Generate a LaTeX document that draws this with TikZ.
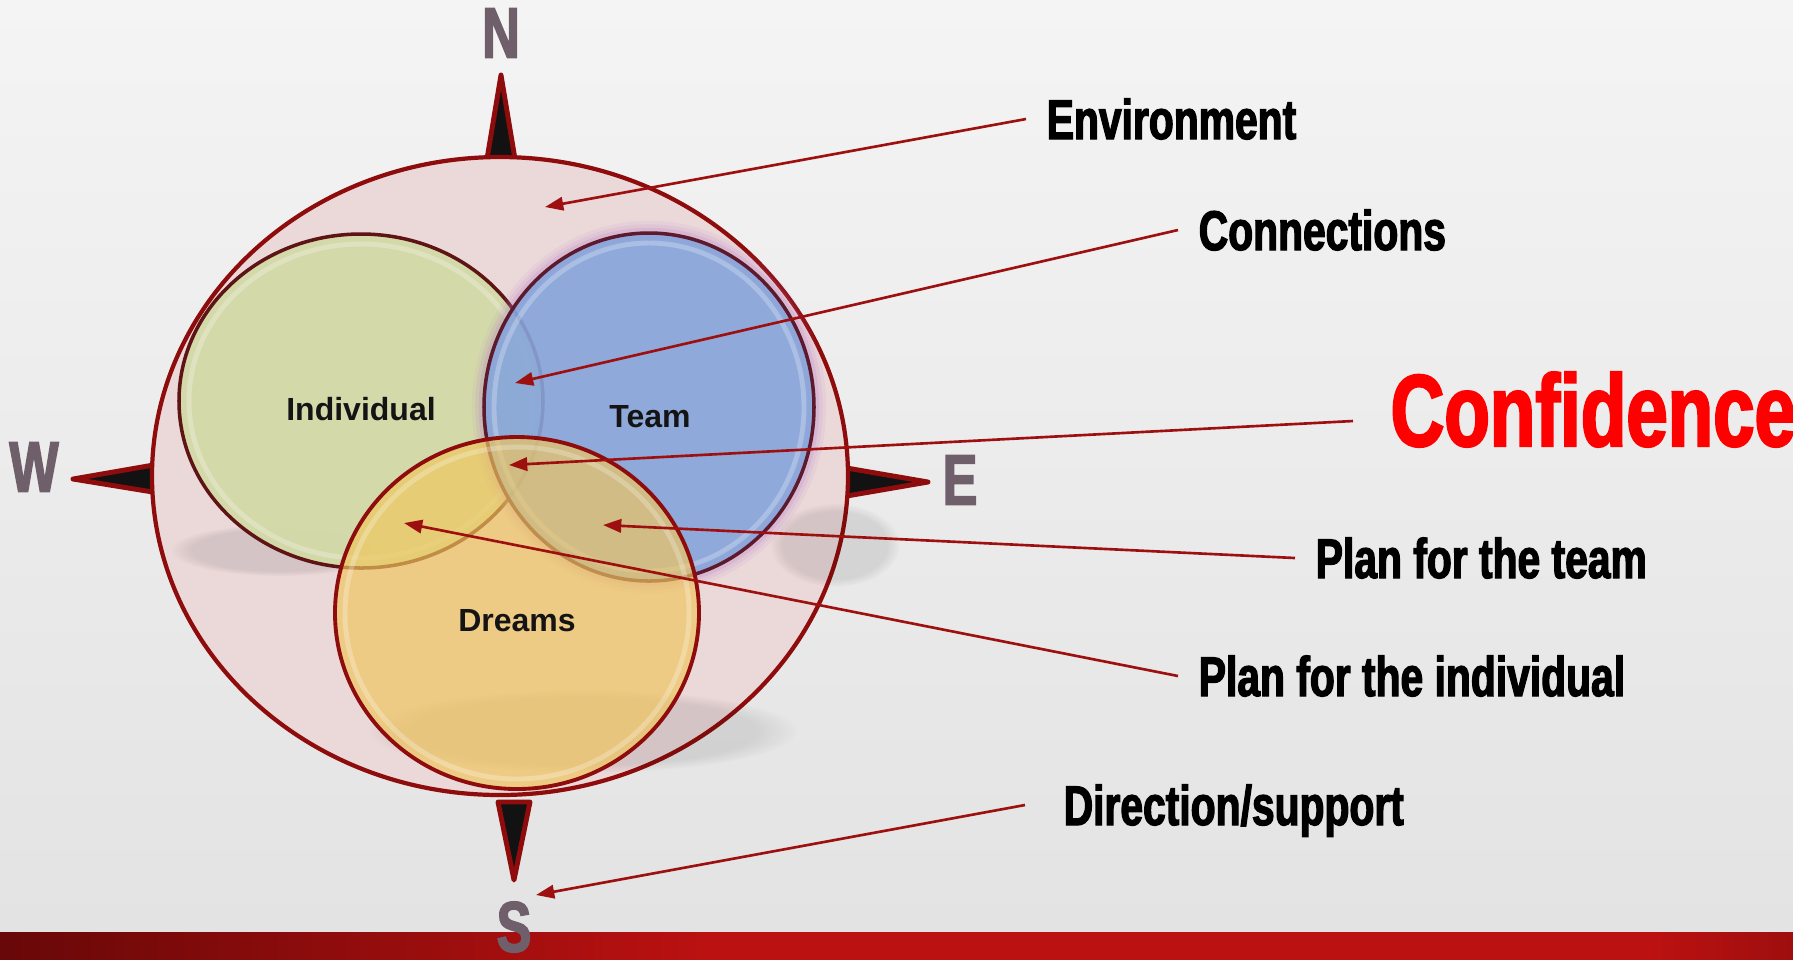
\documentclass[tikz,border=0pt]{standalone}
\usepackage{fontspec}
\setmainfont{Liberation Sans}
\newfontfamily\impactfont{Liberation Sans}[FakeStretch=0.73,BoldFeatures={FakeBold=2.2}]
\usetikzlibrary{arrows.meta,fadings}
\definecolor{PaperTop}{HTML}{F4F4F4}
\definecolor{PaperBot}{HTML}{E3E3E3}
\definecolor{BarDark}{HTML}{680808}
\definecolor{BarRed}{HTML}{BC1111}
\definecolor{BarEnd}{HTML}{9E0E0E}
\definecolor{Rim}{HTML}{8E0C0C}
\definecolor{Pointer}{HTML}{9E1010}
\definecolor{EnvFill}{HTML}{EBD8D9}
\definecolor{IndFill}{HTML}{D3DAA8}
\definecolor{IndRim}{HTML}{5E1414}
\definecolor{TeamFill}{HTML}{86A5DB}
\definecolor{TeamRim}{HTML}{5C1A2C}
\definecolor{DreamFill}{HTML}{F0C65C}
\definecolor{Glow}{HTML}{B57AC8}
\definecolor{Heading}{HTML}{6E5F6A}
\definecolor{Alarm}{HTML}{FF0000}
% the path is fitted to the 25bp--75bp part of the shading
\pgfdeclarehorizontalshading{barshade}{100bp}{color(0bp)=(BarDark); color(25bp)=(BarDark);
  color(45bp)=(BarRed); color(71bp)=(BarRed); color(75bp)=(BarEnd); color(100bp)=(BarEnd)}
% one black compass needle with a red rim: apex, then the two base corners
\newcommand{\CompassTip}[3]{%
  \filldraw[fill=black!93,draw=Rim,line width=1.4pt,line join=round] (#1) -- (#2) -- (#3) -- cycle;%
}

\begin{document}
\begin{tikzpicture}[x=0.01cm,y=-0.01cm,
  caption/.style={anchor=west,inner xsep=5.7pt,inner ysep=0pt,text height=11.4pt,text depth=0pt,
    font=\impactfont\bfseries\fontsize{15.9}{18}\selectfont},
  heading/.style={text=Heading,inner sep=0pt,font=\impactfont\bfseries\fontsize{20.3}{22}\selectfont},
  settext/.style={font=\bfseries\fontsize{9.1}{11}\selectfont,text=black!92},
  pointer/.style={draw=Pointer,line width=0.75pt,-{Triangle[length=5.2pt,width=3.8pt]}},
  haze/.style={black,opacity=0.09,path fading=circle with fuzzy edge 20 percent},
  bevel/.style={white,opacity=0.25,line width=1.4pt}]
\useasboundingbox (0,0) rectangle (1793,959);
\shade[top color=PaperTop,bottom color=PaperBot] (0,0) rectangle (1793,932);
\shade[shading=barshade] (0,932) rectangle (1793,959);

% compass needles
\CompassTip{501,75}{486,165}{516,165}
\CompassTip{73,479}{165,463}{165,494}
\CompassTip{928,482}{835,466}{835,498}
\CompassTip{514,880}{498,802}{530,802}

% environment
\filldraw[fill=EnvFill,draw=Rim,line width=1.2pt] (500,476) ellipse [x radius=348,y radius=319];

% soft shadows
\fill[haze] (280,550) ellipse [x radius=110,y radius=26];
\fill[haze] (583,731) ellipse [x radius=215,y radius=42];
\fill[haze] (835,545) ellipse [x radius=65,y radius=42];

% the three sets
\filldraw[fill=IndFill,fill opacity=0.95,draw=IndRim,line width=1pt] (361,401) ellipse [x radius=182,y radius=167];
\draw[bevel] (361,401) ellipse [x radius=172,y radius=157];
\foreach \w/\o in {7/0.08,5/0.12,3/0.18}
  \draw[Glow,line width=\w pt,opacity=\o] (649,407) ellipse [x radius=165,y radius=174];
\filldraw[fill=TeamFill,fill opacity=0.9,draw=TeamRim,line width=1pt] (649,407) ellipse [x radius=165,y radius=174];
\draw[bevel] (649,407) ellipse [x radius=155,y radius=164];
\filldraw[fill=DreamFill,fill opacity=0.68,draw=Rim,line width=1.1pt] (517,613) ellipse [x radius=182,y radius=176];
\draw[bevel] (517,613) ellipse [x radius=172,y radius=166];

\node[settext] (ind) at (361,409) {Individual};
\node[settext] (team) at (650,417) {Team};
\node[settext] (dreams) at (517,621) {Dreams};

% compass letters
\node[heading] (north) at (501,33) {N};
\node[heading] (west) at (34,467) {W};
\node[heading] (east) at (960,480) {E};
\node[heading] (south) at (514,927) {S};

% where the pointers land
\coordinate (envpt) at (545,207);
\coordinate (conpt) at (515,383);
\coordinate (confpt) at (509,465);
\coordinate (teampt) at (603,525);
\coordinate (indpt) at (404,523);
\coordinate (dirpt) at (536,895);

\node[caption] (env) at (1026,119) {Environment};
\node[caption] (conn) at (1178,230) {Connections};
\node[caption,inner xsep=10.5pt,text height=20.8pt,text depth=6.6pt,text=Alarm,
  font=\impactfont\bfseries\fontsize{29}{32}\selectfont] (conf) at (1353,421) {Confidence};
\node[caption] (teamplan) at (1295,558) {Plan for the team};
\node[caption] (indplan) at (1178,676) {Plan for the individual};
\node[caption,inner xsep=10.8pt] (dir) at (1025,805) {Direction/support};

\draw[pointer] (env.west) -- (envpt);
\draw[pointer] (conn.west) -- (conpt);
\draw[pointer] (conf.west) -- (confpt);
\draw[pointer] (teamplan.west) -- (teampt);
\draw[pointer] (indplan.west) -- (indpt);
\draw[pointer] (dir.west) -- (dirpt);
\end{tikzpicture}
\end{document}
